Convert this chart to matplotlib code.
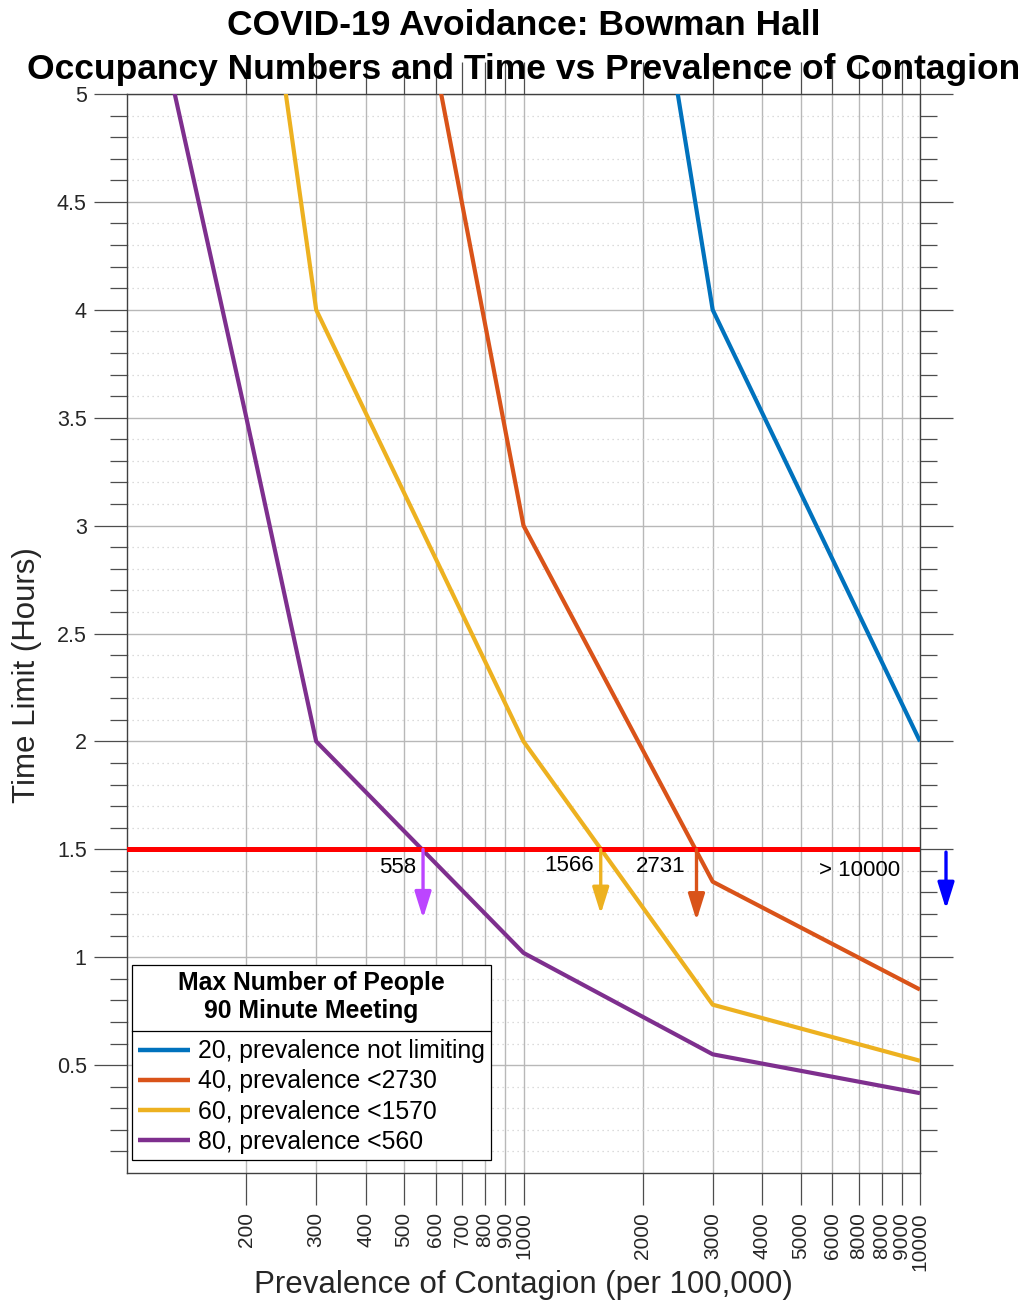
import matplotlib
matplotlib.use("Agg")
import matplotlib.pyplot as plt
import numpy as np
from matplotlib.lines import Line2D
from matplotlib.transforms import IdentityTransform
from matplotlib.ticker import NullLocator, FixedLocator

plt.rcParams['font.family'] = ['Liberation Sans', 'DejaVu Sans']

# ---------------- data ----------------
x_20 = [2000, 3000, 10000]
y_20 = [6.0, 4.0, 2.0]
x_40 = [500, 1000, 3000, 10000]
y_40 = [5.9, 3.0, 1.35, 0.85]
x_60 = [200, 300, 1000, 3000, 10000]
y_60 = [6.3, 4.0, 2.0, 0.78, 0.52]
x_80 = [100, 200, 300, 1000, 3000, 10000]
y_80 = [6.0, 3.5, 2.0, 1.02, 0.55, 0.37]

series_labels = ["20, prevalence not limiting", "40, prevalence <2730",
                 "60, prevalence <1570", "80, prevalence <560"]
series_colors = ["#0072BD", "#D95319", "#EDB120", "#7E2F8E"]

meeting_hours = 1.5
crossing_x = [558, 1566, 2731]
crossing_text = ["558", "1566", "2731"]
arrow_colors = ["#BC45FF", "#EDB120", "#D95319"]
arrow_tips = [1.18, 1.2, 1.17]
beyond_text = "> 10000"

xtick_values = [200, 300, 400, 500, 600, 700, 800, 900, 1000,
                2000, 3000, 4000, 5000, 6000, 7000, 8000, 9000, 10000]
xtick_labels = ["200", "300", "400", "500", "600", "700", "800", "900", "1000",
                "2000", "3000", "4000", "5000", "6000", "8000", "8000", "9000", "10000"]
ytick_values = [0.5, 1, 1.5, 2, 2.5, 3, 3.5, 4, 4.5, 5]
ytick_labels = ["0.5", "1", "1.5", "2", "2.5", "3", "3.5", "4", "4.5", "5"]

title_text = "COVID-19 Avoidance: Bowman Hall\nOccupancy Numbers and Time vs Prevalence of Contagion"
legend_title = "Max Number of People\n90 Minute Meeting"

# ---------------- figure ----------------
W, H = 1018, 1309
fig = plt.figure(figsize=(W / 100, H / 100), dpi=100)
ax = fig.add_axes([127 / W, 1 - 1173 / H, (920 - 127) / W, (1173 - 94) / H])

ax.set_xscale('log')
ax.set_xlim(100, 10000)
ax.set_ylim(0, 5)

dark = "#262626"
tickc = "#4d4d4d"

# grid
ax.xaxis.set_major_locator(FixedLocator(xtick_values))
ax.xaxis.set_minor_locator(NullLocator())
ax.set_xticklabels(xtick_labels, rotation=90, va='top', ha='center')
ax.set_yticks(ytick_values)
ax.set_yticklabels(ytick_labels)
ax.yaxis.set_minor_locator(FixedLocator([v / 10 for v in range(1, 50) if v % 5 != 0]))

ax.grid(which='major', axis='both', color='#b8b8b8', lw=1.0, ls='-')
ax.grid(which='minor', axis='y', color='#d0d0d0', lw=0.9, ls=(0, (1, 3)))
ax.set_axisbelow(True)

ax.tick_params(axis='x', which='major', direction='out', length=23, width=0.9,
               color=tickc, top=True, bottom=True, labelsize=15, labelcolor=dark, pad=5)
ax.tick_params(axis='y', which='major', direction='out', length=24, width=0.9,
               color=tickc, left=True, right=True, labelsize=15.5, labelcolor=dark, pad=5)
ax.tick_params(axis='y', which='minor', direction='out', length=12, width=0.9,
               color=tickc, left=True, right=True)
for s in ax.spines.values():
    s.set_color('#404040')
    s.set_linewidth(1.0)

# series
for xs, ys, lab, col in zip([x_20, x_40, x_60, x_80], [y_20, y_40, y_60, y_80],
                            series_labels, series_colors):
    ax.plot(xs, ys, color=col, lw=3.0, label=lab, solid_capstyle='butt', zorder=3)

# threshold line
ax.plot([100, 10000], [meeting_hours, meeting_hours], color='#FF0000', lw=3.6, zorder=4)

# arrows and labels
astyle = '-|>,head_length=0.8,head_width=0.25'
for cx, txt, col, tip, tpos in zip(crossing_x, crossing_text, arrow_colors, arrow_tips,
                                   [(481, 1.415), (1302, 1.427), (2222, 1.419)]):
    ax.annotate('', xy=(cx, tip), xytext=(cx, meeting_hours),
                arrowprops=dict(arrowstyle=astyle, color=col, lw=2.4,
                                mutation_scale=20, shrinkA=0, shrinkB=0), zorder=5)
    ax.text(tpos[0], tpos[1], txt, fontsize=16, ha='center', va='center', color='black', zorder=6)

ax.annotate('', xy=(11630, 1.223), xytext=(11630, 1.487),
            arrowprops=dict(arrowstyle=astyle, color='#0000FF', lw=2.4,
                            mutation_scale=20, shrinkA=0, shrinkB=0),
            annotation_clip=False, zorder=5)
ax.text(7059, 1.404, beyond_text, fontsize=16, ha='center', va='center', color='black', zorder=6)

# labels and title
ax.set_title(title_text, fontsize=25.5, fontweight='bold', pad=11, linespacing=1.4, color='black')
ax.set_xlabel("Prevalence of Contagion (per 100,000)", fontsize=22.5, color=dark)
ax.set_ylabel("Time Limit (Hours)", fontsize=22.5, color=dark)
ax.xaxis.set_label_coords(0.5, (1173 - 1270) / 1079)
ax.yaxis.set_label_coords((42 - 127) / 793, (1173 - 675) / 1079)

# legend
leg = ax.legend(loc='lower left', bbox_to_anchor=(5 / 793, 13 / 1079), borderaxespad=0,
                title=legend_title, fontsize=17.8, title_fontproperties={'weight': 'bold', 'size': 17.8},
                frameon=True, fancybox=False, edgecolor='black', framealpha=1,
                handlelength=2.1, handletextpad=0.3, labelspacing=0.25, borderpad=0.25)
leg.get_frame().set_linewidth(0.9)
leg.get_title().set_multialignment('center')
leg.get_title().set_linespacing(1.2)
leg._legend_box.sep = 12
for h in leg.get_lines():
    h.set_linewidth(3.2)
leg.set_zorder(10)

fig.canvas.draw()
r = fig.canvas.get_renderer()
tb = leg.get_title().get_window_extent(r)
lb = leg.get_window_extent(r)
texts_bb = [t.get_window_extent(r) for t in leg.get_texts()]
ysep = (tb.y0 + texts_bb[0].y1) / 2
fig.add_artist(Line2D([lb.x0, lb.x1], [ysep, ysep], transform=IdentityTransform(),
                      color='black', lw=0.9, zorder=11))

fig.savefig("out.png", dpi=100)
